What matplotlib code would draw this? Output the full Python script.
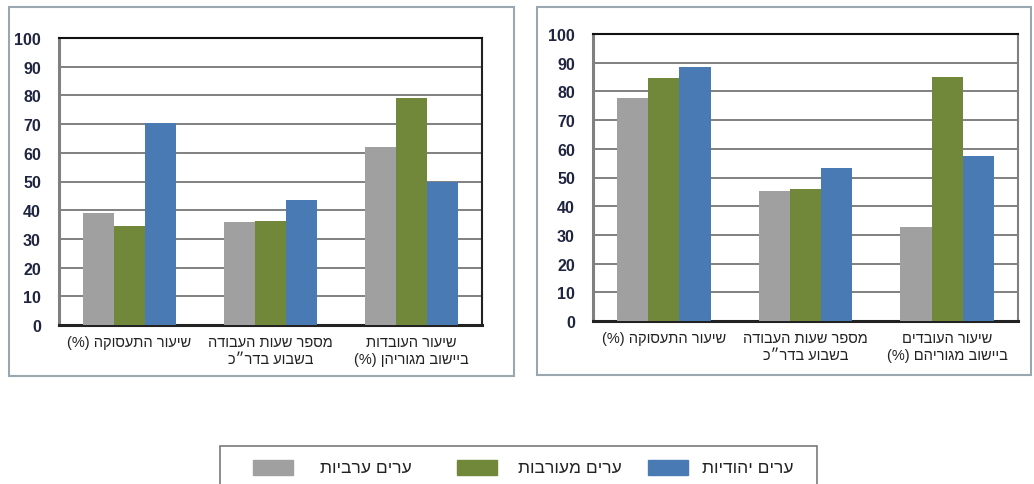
import matplotlib.pyplot as plt
from matplotlib.patches import Rectangle
import numpy as np

plt.rcParams['font.family'] = ['Liberation Sans', 'DejaVu Sans']

# categories (logical Hebrew order)
left_categories = ['שיעור התעסוקה (%)',
                   'מספר שעות העבודה\nבשבוע בדר״כ',
                   'שיעור העובדות\nביישוב מגוריהן (%)']
right_categories = ['שיעור התעסוקה (%)',
                    'מספר שעות העבודה\nבשבוע בדר״כ',
                    'שיעור העובדים\nביישוב מגוריהם (%)']

series_names = ['ערים ערביות', 'ערים מעורבות', 'ערים יהודיות']
colors = ['#A0A0A0', '#71883B', '#4A7AB4']

# left chart (women)
left_arab = [39.0, 35.8, 62.0]
left_mixed = [34.5, 36.3, 79.0]
left_jewish = [70.5, 43.7, 49.9]

# right chart (men)
right_arab = [77.8, 45.2, 32.9]
right_mixed = [84.8, 46.0, 84.9]
right_jewish = [88.4, 53.3, 57.6]

yticks = [0, 10, 20, 30, 40, 50, 60, 70, 80, 90, 100]


def visual(s):
    # matplotlib has no bidi: flip each line and mirror the brackets
    swap = {'(': ')', ')': '('}
    lines = []
    for line in s.split('\n'):
        lines.append(''.join(swap.get(c, c) for c in line[::-1]))
    return '\n'.join(lines)


def draw_panel(ax, cats, series, right_spine_color):
    x = np.arange(len(cats))
    w = 0.22
    for i, vals in enumerate(series):
        ax.bar(x + (i - 1) * w, vals, w, color=colors[i], zorder=3)
    ax.set_xlim(-0.5, 2.5)
    ax.set_ylim(0, 100)
    ax.set_yticks(yticks)
    ax.set_yticklabels([str(t) for t in yticks], fontsize=11.5,
                       fontweight='bold', color='#1F2440')
    ax.set_xticks(x)
    ax.set_xticklabels([visual(c) for c in cats], fontsize=10.5,
                       color='#222222', linespacing=1.3)
    ax.tick_params(axis='y', length=0, pad=13)
    ax.tick_params(axis='x', length=0, pad=7)
    ax.grid(axis='y', color='#808080', linewidth=1.4, zorder=0)
    ax.spines['top'].set_color('#111111')
    ax.spines['top'].set_linewidth(1.5)
    ax.spines['left'].set_color('#808080')
    ax.spines['left'].set_linewidth(2.2)
    ax.spines['bottom'].set_color('#222222')
    ax.spines['bottom'].set_linewidth(2.2)
    ax.spines['right'].set_color(right_spine_color)
    ax.spines['right'].set_linewidth(1.5)


fig = plt.figure(figsize=(10.34, 4.85), dpi=100)
W, H = 1034, 485


def fbox(x0, y0, x1, y1, color='#9AA6B0', lw=1.5):
    fig.patches.append(Rectangle((x0 / W, 1 - y1 / H), (x1 - x0) / W, (y1 - y0) / H,
                                 transform=fig.transFigure, fill=False,
                                 edgecolor=color, linewidth=lw))


fbox(9, 8, 514, 377)
fbox(537, 8, 1031, 376)

ax1 = fig.add_axes([59 / W, 1 - 326 / H, 423 / W, 287 / H])
draw_panel(ax1, left_categories, [left_arab, left_mixed, left_jewish], '#222222')

ax2 = fig.add_axes([593 / W, 1 - 322 / H, 425 / W, 287 / H])
draw_panel(ax2, right_categories, [right_arab, right_mixed, right_jewish], '#808080')

# legend box, swatch to the left of each label
fbox(220, 447, 817, 492, color='#7A7A7A', lw=1.2)
swatch_x = [253, 457, 648]
label_x = [320, 518, 702]
for i in range(3):
    fig.patches.append(Rectangle((swatch_x[i] / W, 1 - 476 / H), 40 / W, 15 / H,
                                 transform=fig.transFigure, color=colors[i]))
    fig.text(label_x[i] / W, 1 - 468.5 / H, visual(series_names[i]), fontsize=12.5,
             color='#222222', ha='left', va='center')

fig.savefig('out.png', dpi=100)
